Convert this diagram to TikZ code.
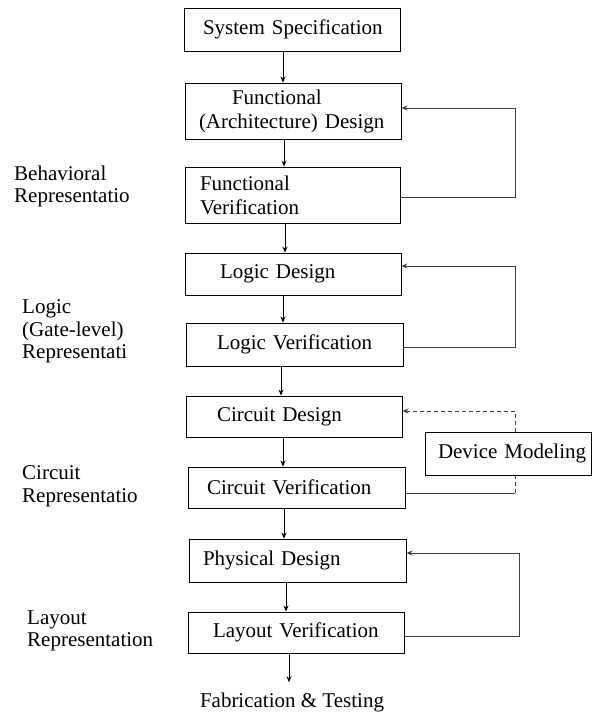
\documentclass[tikz,border=0pt]{standalone}
\usepackage{fontspec}
\setmainfont{Liberation Serif}
\usetikzlibrary{arrows.meta}
\begin{document}
\begin{tikzpicture}[x=1pt,y=-1pt,
  txt/.style={font=\fontsize{21}{24}\selectfont, text=black},
  box/.style={txt, draw, line width=0.9pt, inner sep=0pt, align=left, text width=#1},
  lbl/.style={txt, inner sep=0pt, align=left, anchor=west, font=\fontsize{21}{22.5}\selectfont},
  tip/.style={-{Stealth[length=6pt,width=5pt]}},
  arr/.style={line width=0.9pt, tip},
  fb/.style={line width=0.8pt, black!75, tip},
  plain/.style={line width=0.8pt, black!75},
  dsh/.style={line width=0.8pt, black!75, dash pattern=on 4pt off 3pt}
]
% canvas
\fill[white] (0,0) rectangle (593,713);
\useasboundingbox (0,0) rectangle (593,713);

% design flow boxes
\node[box=216pt, minimum height=43pt] (ss) at (292,29.5)
  {\hspace*{19pt}System Specification};
\node[box=216pt, minimum height=56pt] (fd) at (293,111)
  {\hspace*{47pt}Functional\\\hspace*{14pt}(Architecture) Design};
\node[box=215pt, minimum height=56pt] (fv) at (292.5,195)
  {\hspace*{15pt}Functional\\\hspace*{15pt}Verification};
\node[box=216pt, minimum height=42pt] (ld) at (293,274)
  {\hspace*{35pt}Logic Design};
\node[box=217pt, minimum height=43pt] (lv) at (294.5,344.5)
  {\hspace*{31pt}Logic Verification};
\node[box=216pt, minimum height=41pt] (cd) at (294,416.5)
  {\hspace*{31pt}Circuit Design};
\node[box=217pt, minimum height=41pt] (cv) at (296.5,487.5)
  {\hspace*{19pt}Circuit Verification};
\node[box=166pt, minimum height=43pt] (dm) at (508,453.5)
  {\hspace*{13pt}Device Modeling};
\node[box=217pt, minimum height=43pt] (pd) at (297.5,560.5)
  {\hspace*{14pt}Physical Design};
\node[box=216pt, minimum height=41pt] (lay) at (296,632.5)
  {\hspace*{25pt}Layout Verification};
\node[txt, inner sep=0pt] (fab) at (292,702) {Fabrication \& Testing};

% representation levels
\node[lbl] (beh) at (14,186.5) {Behavioral\\Representatio};
\node[lbl] (lgc) at (22,331.5) {Logic\\(Gate-level)\\Representati};
\node[lbl] (cir) at (22,486.5) {Circuit\\Representatio};
\node[lbl] (lyr) at (27,631) {Layout\\Representation};

% main downward flow
\draw[arr] ([xshift=-9pt]ss.south) coordinate (a1) -- (a1 |- fd.north);
\draw[arr] ([xshift=-9pt]fd.south) coordinate (a2) -- (a2 |- fv.north);
\draw[arr] ([xshift=-7.5pt]fv.south) coordinate (a3) -- (a3 |- ld.north);
\draw[arr] ([xshift=-10pt]ld.south) coordinate (a4) -- (a4 |- lv.north);
\draw[arr] ([xshift=-13.5pt]lv.south) coordinate (a5) -- (a5 |- cd.north);
\draw[arr] ([xshift=-11pt]cd.south) coordinate (a6) -- (a6 |- cv.north);
\draw[arr] ([xshift=-12.5pt]cv.south) coordinate (a7) -- (a7 |- pd.north);
\draw[arr] ([xshift=-11.5pt]pd.south) coordinate (a8) -- (a8 |- lay.north);
\draw[arr] ([xshift=-7pt]lay.south) coordinate (a9) -- ([yshift=10pt]a9 |- fab.north);

% verification feedback loops
\draw[fb] ([yshift=-2pt]fv.east) -- ++(115,0) |- ([yshift=3pt]fd.east);
\draw[fb] ([yshift=-2.5pt]lv.east) -- ++(112,0) |- ([yshift=8pt]ld.east);
\draw[fb] ([yshift=-3.5pt]lay.east) -- ++(115,0) |- ([yshift=7.5pt]pd.east);

% device modeling links
\coordinate (dmN) at ([xshift=7pt]dm.north);
\coordinate (dmS) at ([xshift=7pt]dm.south);
\coordinate (cvr) at ([yshift=-5.5pt]cv.east);
\draw[dsh, tip] (dmN) |- ([yshift=5.5pt]cd.east);
\draw[dsh] (dmS) -- (dmS |- cvr);
\draw[plain] (dmS |- cvr) -- (cvr);
\end{tikzpicture}
\end{document}
